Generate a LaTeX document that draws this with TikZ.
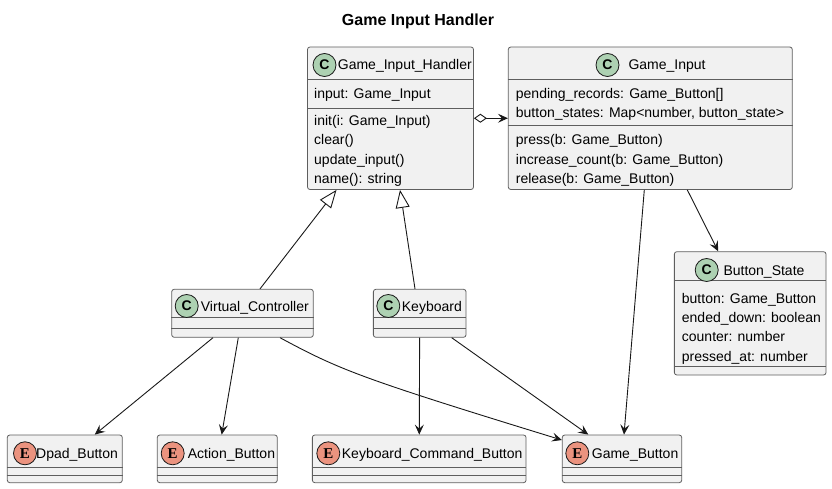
\documentclass[tikz,border=0pt]{standalone}
\usepackage{fontspec}
\setmainfont{Liberation Sans}
\newfontfamily\badgeserif{Liberation Serif}
\usetikzlibrary{arrows.meta}

\definecolor{boxfill}{HTML}{F1F1F1}
\definecolor{boxline}{HTML}{5E5E5E}
\definecolor{edgeline}{HTML}{181818}
\definecolor{classbadge}{HTML}{ADD1B2}
\definecolor{enumbadge}{HTML}{EB937F}

\tikzset{
  umlbox/.style={draw=boxline, fill=boxfill, line width=0.8pt, rounded corners=2.5pt, inner sep=0pt},
  sepline/.style={draw=boxline, line width=0.8pt},
  txt/.style={anchor=base west, inner sep=0pt, font=\fontsize{14}{16}\selectfont},
  cbadge/.style={circle, draw=edgeline, line width=0.8pt, fill=classbadge, minimum size=23pt, inner sep=0pt, font=\bfseries\fontsize{14}{14}\selectfont},
  ebadge/.style={cbadge, fill=enumbadge, font=\badgeserif\bfseries\fontsize{15}{15}\selectfont},
  nav/.style={draw=edgeline, line width=0.9pt, -{Stealth[length=10pt, width=9pt, inset=4pt]}},
  inh/.style={draw=edgeline, line width=0.9pt, -{Triangle[open, length=18pt, width=14pt, fill=white]}},
  agg/.style={draw=edgeline, line width=0.9pt, {Diamond[open, length=13pt, width=9pt, fill=white]}-{Stealth[length=10pt, width=9pt, inset=4pt]}}
}

\begin{document}
\begin{tikzpicture}[x=1pt, y=-1pt]
        \useasboundingbox (0,0) rectangle (832,489);

        \node[font=\bfseries\fontsize{16}{18}\selectfont] (title) at (418, 21) {Game Input Handler};

        % classes
        \node[umlbox, minimum width=166, minimum height=142.5] (GIH) at (390.5, 118.25) {};
        \node[umlbox, minimum width=284, minimum height=142.5] (GI) at (650.3, 118.25) {};
        \node[umlbox, minimum width=151.7, minimum height=123.3] (BS) at (750.2, 313.35) {};
        \node[umlbox, minimum width=141.6, minimum height=48] (VC) at (242.5, 313.3) {};
        \node[umlbox, minimum width=92.7, minimum height=48] (KB) at (419.7, 313.3) {};

        % enums
        \node[umlbox, minimum width=115, minimum height=47.7] (DB) at (64.8, 458.85) {};
        \node[umlbox, minimum width=120, minimum height=47.7] (AB) at (217.3, 458.85) {};
        \node[umlbox, minimum width=213.7, minimum height=47.7] (KCB) at (419.2, 458.85) {};
        \node[umlbox, minimum width=119.4, minimum height=47.7] (GB) at (622, 458.85) {};

        % compartments
        \draw[sepline] (GIH.west |- 0,79.5) -- (GIH.east |- 0,79.5);
        \draw[sepline] (GIH.west |- 0,108.5) -- (GIH.east |- 0,108.5);
        \draw[sepline] (GI.west |- 0,79.5) -- (GI.east |- 0,79.5);
        \draw[sepline] (GI.west |- 0,125) -- (GI.east |- 0,125);
        \draw[sepline] (BS.west |- 0,280) -- (BS.east |- 0,280);
        \draw[sepline] (BS.west |- 0,366.7) -- (BS.east |- 0,366.7);
        \draw[sepline] (VC.west |- 0,317.3) -- (VC.east |- 0,317.3);
        \draw[sepline] (VC.west |- 0,328.3) -- (VC.east |- 0,328.3);
        \draw[sepline] (KB.west |- 0,317.3) -- (KB.east |- 0,317.3);
        \draw[sepline] (KB.west |- 0,328.3) -- (KB.east |- 0,328.3);
        \draw[sepline] (DB.west |- 0,467.3) -- (DB.east |- 0,467.3);
        \draw[sepline] (DB.west |- 0,475) -- (DB.east |- 0,475);
        \draw[sepline] (AB.west |- 0,467.3) -- (AB.east |- 0,467.3);
        \draw[sepline] (AB.west |- 0,475) -- (AB.east |- 0,475);
        \draw[sepline] (KCB.west |- 0,467.3) -- (KCB.east |- 0,467.3);
        \draw[sepline] (KCB.west |- 0,475) -- (KCB.east |- 0,475);
        \draw[sepline] (GB.west |- 0,467.3) -- (GB.east |- 0,467.3);
        \draw[sepline] (GB.west |- 0,475) -- (GB.east |- 0,475);

        % Game_Input_Handler
        \node[cbadge] (GIHc) at (324.5, 65) {C};
        \node[txt] (GIHn) at (337.7, 70) {Game\_Input\_Handler};
        \node[txt] (GIHa1) at (314, 99) {input: Game\_Input};
        \node[txt] (GIHm1) at (314, 125.5) {init(i: Game\_Input)};
        \node[txt] (GIHm2) at (314, 145) {clear()};
        \node[txt] (GIHm3) at (314, 164.5) {update\_input()};
        \node[txt] (GIHm4) at (314, 184) {name(): string};

        % Game_Input
        \node[cbadge] (GIc) at (607.5, 65) {C};
        \node[txt] (GIn) at (628.3, 70) {Game\_Input};
        \node[txt] (GIa1) at (515.7, 98.3) {pending\_records: Game\_Button[]};
        \node[txt] (GIa2) at (515.7, 117.7) {button\_states: Map<number, button\_state>};
        \node[txt] (GIm1) at (515.7, 145) {press(b: Game\_Button)};
        \node[txt] (GIm2) at (515.7, 164.2) {increase\_count(b: Game\_Button)};
        \node[txt] (GIm3) at (515.7, 183.4) {release(b: Game\_Button)};

        % Button_State
        \node[cbadge] (BSc) at (706.7, 270) {C};
        \node[txt] (BSn) at (723.3, 275) {Button\_State};
        \node[txt] (BSa1) at (681.7, 303.3) {button: Game\_Button};
        \node[txt] (BSa2) at (681.7, 322.3) {ended\_down: boolean};
        \node[txt] (BSa3) at (681.7, 341.7) {counter: number};
        \node[txt] (BSa4) at (681.7, 361) {pressed\_at: number};

        % handlers
        \node[cbadge] (VCc) at (186.7, 306) {C};
        \node[txt] (VCn) at (200.7, 311) {Virtual\_Controller};
        \node[cbadge] (KBc) at (388.3, 306) {C};
        \node[txt] (KBn) at (401.7, 311) {Keyboard};

        % buttons
        \node[ebadge] (DBe) at (25, 453.3) {E};
        \node[txt] (DBn) at (36, 458.3) {Dpad\_Button};
        \node[ebadge] (ABe) at (172.7, 453.3) {E};
        \node[txt] (ABn) at (187.7, 458.3) {Action\_Button};
        \node[ebadge] (KCBe) at (328.3, 453.3) {E};
        \node[txt] (KCBn) at (341.7, 458.3) {Keyboard\_Command\_Button};
        \node[ebadge] (GBe) at (577.3, 453.3) {E};
        \node[txt] (GBn) at (591.7, 458.3) {Game\_Button};

        % relations
        \draw[agg] (GIH.east) -- (GIH.east -| GI.west);
        \draw[inh] ([xshift=17.5pt]VC.north) -- ([xshift=-54pt]GIH.south);
        \draw[inh] ([xshift=-4.7pt]KB.north) -- ([xshift=9.5pt]GIH.south);
        \draw[nav] ([xshift=-6pt]GI.south) -- ([xshift=2pt]GB.north);
        \draw[nav] ([xshift=37pt]GI.south) -- ([xshift=-32pt]BS.north);
        \draw[nav] ([xshift=-29.5pt]VC.south) -- ([xshift=30pt]DB.north);
        \draw[nav] ([xshift=-4.2pt]VC.south) -- ([xshift=4.4pt]AB.north);
        \draw[nav] ([xshift=37.5pt]VC.south) .. controls (340, 370) and (360, 378) .. ([yshift=18.8pt]GB.west);
        \draw[nav] (KB) -- (KCB);
        \draw[nav] ([xshift=32pt]KB.south) -- ([xshift=-33.7pt]GB.north);
      \end{tikzpicture}
\end{document}
